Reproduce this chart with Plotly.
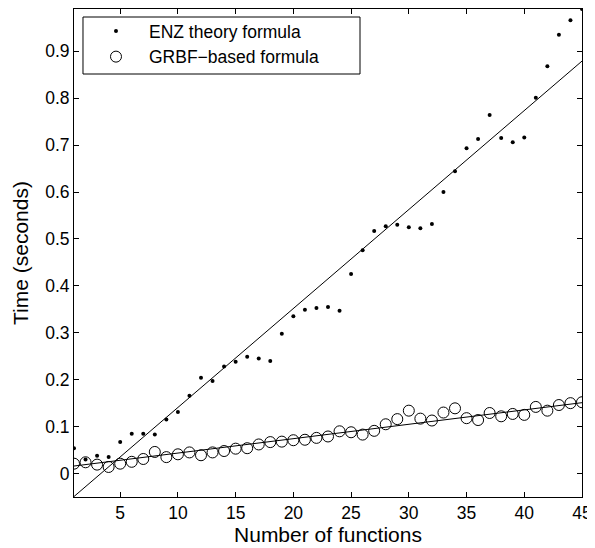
import plotly.graph_objects as go

n_functions = list(range(1, 46))
enz_time = [0.054, 0.030, 0.038, 0.035, 0.067, 0.085, 0.085, 0.083, 0.115, 0.131,
            0.166, 0.204, 0.197, 0.228, 0.238, 0.249, 0.245, 0.240, 0.298, 0.335,
            0.349, 0.353, 0.355, 0.347, 0.425, 0.476, 0.517, 0.527, 0.530, 0.525,
            0.523, 0.532, 0.600, 0.644, 0.693, 0.713, 0.764, 0.715, 0.706, 0.716,
            0.801, 0.868, 0.935, 0.966, 0.990]
grbf_time = [0.021, 0.024, 0.019, 0.014, 0.021, 0.025, 0.031, 0.046, 0.035, 0.041,
             0.045, 0.039, 0.045, 0.048, 0.053, 0.054, 0.062, 0.067, 0.068, 0.071,
             0.072, 0.076, 0.079, 0.090, 0.088, 0.083, 0.091, 0.105, 0.116, 0.134,
             0.117, 0.113, 0.130, 0.139, 0.118, 0.114, 0.129, 0.122, 0.127, 0.125,
             0.142, 0.134, 0.146, 0.150, 0.152]
# fitted trend lines at their end points
fit_x = [1, 45]
enz_fit = [-0.049, 0.879]
grbf_fit = [0.016, 0.151]
x_ticks = [5, 10, 15, 20, 25, 30, 35, 40, 45]
y_ticks = [0, 0.1, 0.2, 0.3, 0.4, 0.5, 0.6, 0.7, 0.8, 0.9]
y_tick_labels = ["0", "0.1", "0.2", "0.3", "0.4", "0.5", "0.6", "0.7", "0.8", "0.9"]

fig = go.Figure()
fig.add_trace(go.Scatter(x=fit_x, y=enz_fit, mode="lines",
                         line=dict(color="black", width=1), showlegend=False, hoverinfo="skip"))
fig.add_trace(go.Scatter(x=fit_x, y=grbf_fit, mode="lines",
                         line=dict(color="black", width=1), showlegend=False, hoverinfo="skip"))
fig.add_trace(go.Scatter(x=n_functions, y=enz_time, mode="markers", name="ENZ theory formula",
                         marker=dict(symbol="circle", size=4, color="black")))
fig.add_trace(go.Scatter(x=n_functions, y=grbf_time, mode="markers", name="GRBF\u2212based formula",
                         marker=dict(symbol="circle-open", size=11, color="black",
                                     line=dict(width=1, color="black"))))

# legend frame
fig.add_shape(type="rect", xref="x domain", yref="y domain",
              x0=0.0177, x1=0.563, y0=0.8668, y1=0.9836,
              line=dict(color="black", width=1), fillcolor="white", layer="below")

axis_common = dict(showline=True, linecolor="black", linewidth=1, mirror="ticks",
                   ticks="inside", ticklen=5, tickcolor="black", showgrid=False,
                   zeroline=False, automargin=True, tickfont=dict(size=17.5, color="black"))
fig.update_layout(
    width=587, height=540,
    margin=dict(l=66, r=13, t=1, b=51),
    paper_bgcolor="white", plot_bgcolor="white",
    font=dict(family="Liberation Sans, Arial, sans-serif", size=17.5, color="black"),
    xaxis=dict(range=[1, 45], tickvals=x_ticks, title=dict(text="Number of functions", standoff=4),
               **axis_common),
    yaxis=dict(range=[-0.05, 0.99], tickvals=y_ticks, ticktext=y_tick_labels,
               title=dict(text="Time (seconds)", standoff=10), **axis_common),
    legend=dict(x=0.0177, y=0.9918, xanchor="left", yanchor="top", borderwidth=0,
                bgcolor="rgba(0,0,0,0)", font=dict(size=17.5), tracegroupgap=0,
                itemwidth=56),
)
fig.write_html("out.html")
